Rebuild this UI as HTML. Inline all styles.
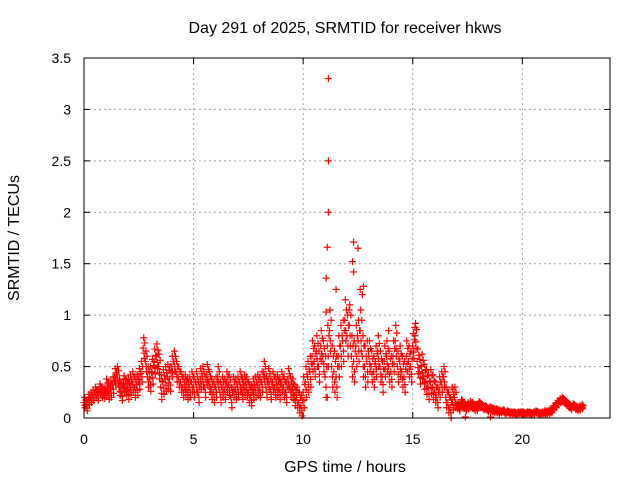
<!DOCTYPE html>
<html><head><meta charset="utf-8"><style>
body{margin:0;background:#fff}
svg{display:block;font-family:"Liberation Sans",sans-serif}
</style></head><body>
<svg id="c" width="640" height="480" xmlns="http://www.w3.org/2000/svg">
<text x="345" y="33" text-anchor="middle" font-size="16">Day 291 of 2025, SRMTID for receiver hkws</text>
<text x="345" y="472" text-anchor="middle" font-size="16">GPS time / hours</text>
<text transform="translate(19,238) rotate(-90)" text-anchor="middle" font-size="16">SRMTID / TECUs</text>
<g id="grid"></g><g id="pts"></g>
<rect x="84" y="58" width="526" height="360" fill="none" stroke="#000" stroke-width="1"/>
</svg>
<script>
const xTicks=[0,5,10,15,20];
const yTicks=[0,0.5,1,1.5,2,2.5,3,3.5];
const yTickLabels=["0","0.5","1","1.5","2","2.5","3","3.5"];
const step=0.1;
const values=[0.15,0.12,0.18,0.2,0.22,
0.25,0.22,0.28,0.25,0.24,0.3,0.26,0.28,0.32,
0.4,0.42,0.3,0.25,0.33,0.3,0.28,0.32,0.35,0.3,0.32,
0.38,0.45,0.68,0.55,0.4,
0.38,0.45,0.55,0.6,0.5,
0.3,0.35,0.38,0.4,0.38,
0.5,0.55,0.45,0.4,0.35,
0.3,0.32,0.28,0.3,0.35,
0.3,0.35,0.25,0.38,0.4,0.3,0.42,0.35,0.28,0.25,
0.3,0.4,0.25,0.3,0.28,0.35,0.32,0.2,0.3,0.28,
0.3,0.35,0.28,0.32,0.3,0.25,0.22,0.28,0.3,0.32,
0.3,0.35,0.45,0.3,0.38,0.28,0.35,0.3,0.32,0.28,
0.35,0.3,0.25,0.38,0.3,0.28,0.22,0.2,0.15,0.12,
0.25,0.35,0.4,0.45,0.6,0.55,0.65,0.5,0.7,0.6,
0.4,0.7,0.85,0.5,0.45,0.4,0.6,0.7,0.75,0.95,
0.8,0.9,0.6,0.55,0.7,0.75,0.85,0.6,0.5,0.55,
0.6,0.5,0.45,0.55,0.65,0.5,0.4,0.55,0.6,0.5,
0.45,0.6,0.75,0.5,0.55,0.45,0.4,0.6,0.55,0.5,
0.7,0.8,0.55,0.45,0.5,0.4,0.35,0.3,0.35,0.3,
0.25,0.2,0.3,0.35,0.4,0.2,0.15,0.1,0.18,0.2,
0.12,0.1,0.15,0.12,0.1,0.12,0.13,0.12,0.1,0.1,
0.14,0.12,0.1,0.1,0.08,0.09,0.08,0.07,0.07,0.06,
0.06,0.07,0.05,0.06,0.05,0.05,0.05,0.04,0.05,0.05,
0.05,0.04,0.05,0.05,0.04,0.05,0.06,0.05,0.04,0.05,
0.05,0.05,0.06,0.07,0.1,0.12,0.15,0.17,0.18,0.16,
0.14,0.12,0.1,0.12,0.1,0.09,0.1,0.11];
const spread=[0.05,0.08,0.1,0.12,0.1,0.1,0.1,0.1,0.1,0.1,0.15,0.2,0.2,0.15,0.15,0.12,0.1,0.03,0.02,0.01,0.01,0.02,0.02,0.02];
const spikeT=[11.15,11.15,11.15,11.1,11.05,12.3,12.5,12.25,12.3,11.5,12.6,12.75,12.7,12.1,11.05,13.9,15.1,11.1,17.4,18.55,16.8];
const spikeV=[3.3,2.5,2.0,1.66,1.36,1.71,1.65,1.52,1.42,1.25,1.25,1.28,1.2,1.05,1.03,0.85,0.88,0.2,0.01,0.01,0.3];
const X0=84,X1=610,Y0=418,Y1=58,XMAX=24,YMAX=3.5;
const sx=t=>X0+(X1-X0)*t/XMAX, sy=v=>Y0-(Y0-Y1)*v/YMAX;
const NS="http://www.w3.org/2000/svg";
const grid=document.getElementById('grid'),pts=document.getElementById('pts');
function mk(tag,at,par){const e=document.createElementNS(NS,tag);for(const k in at)e.setAttribute(k,at[k]);par.appendChild(e);return e;}
xTicks.forEach(t=>{const x=sx(t);
 if(t>0){const g=mk('line',{x1:x,x2:x,y1:Y1,y2:Y0,stroke:'#a0a0a0','stroke-dasharray':'2,3'},grid);}
 mk('line',{x1:x,x2:x,y1:Y0,y2:Y0-6,stroke:'#000'},grid);mk('line',{x1:x,x2:x,y1:Y1,y2:Y1+6,stroke:'#000'},grid);
 const l=mk('text',{x:x,y:444,'text-anchor':'middle','font-size':14},grid);l.textContent=t;
 
 });
yTicks.forEach((v,i)=>{const y=sy(v);
 if(v>0&&v<YMAX){const g=mk('line',{x1:X0,x2:X1,y1:y,y2:y,stroke:'#a0a0a0','stroke-dasharray':'2,3'},grid);}
 mk('line',{x1:X0,x2:X0+6,y1:y,y2:y,stroke:'#000'},grid);mk('line',{x1:X1,x2:X1-6,y1:y,y2:y,stroke:'#000'},grid);
 const l=mk('text',{x:71,y:y+5,'text-anchor':'end','font-size':14},grid);l.textContent=yTickLabels[i];
 
 });
function plus(t,v){const x=sx(t),y=sy(Math.max(0,v));
 const p=mk('path',{d:`M${x-3.5},${y}h7M${x},${y-3.5}v7`,stroke:'#f00','stroke-width':1.2,fill:'none'},pts);
 
 }
const offs=[[0,0],[0.025,1],[0.05,-1],[0.075,0.5],[0.04,-0.5]];
values.forEach((v,i)=>{const t=i*step,s=spread[Math.min(spread.length-1,Math.floor(t))];
 offs.forEach(o=>plus(t+o[0],v+o[1]*s));});
spikeT.forEach((t,i)=>plus(t,spikeV[i]));
</script>
</body></html>
